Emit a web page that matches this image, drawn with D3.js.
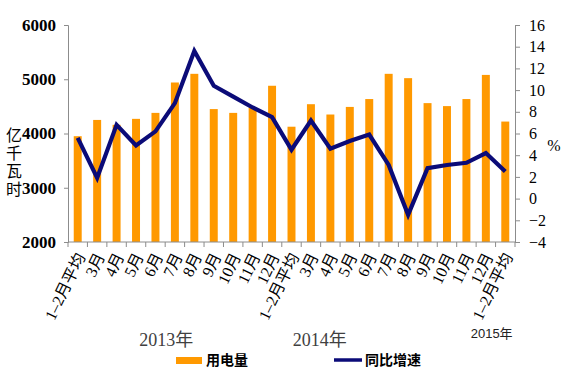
<!DOCTYPE html>
<html><head><meta charset="utf-8">
<script src="https://cdn.jsdelivr.net/npm/d3@7"></script>
<style>body{margin:0;background:#fff}svg{display:block}</style>
</head><body>
<script>
const categories = ["1–2月平均","3月","4月","5月","6月","7月","8月","9月","10月","11月","12月",
  "1–2月平均","3月","4月","5月","6月","7月","8月","9月","10月","11月","12月","1–2月平均"];
const usage = [3950,4250,4160,4270,4380,4940,5100,4450,4380,4480,4880,
  4125,4540,4350,4490,4635,5100,5020,4560,4505,4635,5080,4220];
const growth = [5.6,1.9,6.8,4.9,6.2,8.8,13.6,10.4,9.4,8.4,7.5,
  4.5,7.2,4.6,5.3,5.9,3.1,-1.5,2.8,3.1,3.3,4.2,2.5];
const leftTicks = [2000,3000,4000,5000,6000];
const rightTicks = [-4,-2,0,2,4,6,8,10,12,14,16];
const years = [{t:"2013年", i:4.55},{t:"2014年", i:12.45},{t:"2015年", i:21.3}];

const W=565,H=374, L=68, R=515, T=25, B=242;
const svg = d3.select("body").append("svg").attr("width",W).attr("height",H);
const idx = categories.map((d,i)=>i);
const x = d3.scaleBand().domain(idx).range([L,R]).paddingInner(0.59).paddingOuter(0.295);
const yL = d3.scaleLinear().domain([2000,6000]).range([B,T]);
const yR = d3.scaleLinear().domain([-4,16]).range([B,T]);
const cx = i => x(i)+x.bandwidth()/2;
const cxf = f => cx(0) + f*x.step();
const serif = "'Liberation Serif','Times New Roman','Noto Sans CJK SC',serif";
const axisCol = "#8c8c8c";

// bars
svg.append("g").selectAll("rect").data(usage).join("rect")
  .attr("x",(d,i)=>x(i)).attr("width",x.bandwidth())
  .attr("y",d=>yL(d)).attr("height",d=>yL(2000)-yL(d))
  .attr("fill","#ff9900");

// line
svg.append("path").datum(growth)
  .attr("d", d3.line().x((d,i)=>cx(i)).y(d=>yR(d)))
  .attr("fill","none").attr("stroke","#0b0b78").attr("stroke-width",4.2)
  .attr("stroke-linejoin","miter");

// left axis
const gl = svg.append("g").attr("transform",`translate(${L},0)`)
  .call(d3.axisLeft(yL).tickValues(leftTicks).tickSize(4).tickPadding(8).tickFormat(d3.format("d")));
gl.select(".domain").attr("stroke",axisCol);
gl.selectAll(".tick line").attr("stroke",axisCol);
gl.selectAll("text").attr("font-family",serif).attr("font-size",17).attr("font-weight","bold").attr("fill","#000");

// right axis
const gr = svg.append("g").attr("transform",`translate(${R},0)`)
  .call(d3.axisRight(yR).tickValues(rightTicks).tickSize(5).tickPadding(9)
    .tickFormat(d=> d<0 ? "−"+Math.abs(d) : d));
gr.select(".domain").attr("stroke",axisCol);
gr.selectAll(".tick line").attr("stroke",axisCol);
gr.selectAll("text").attr("font-family",serif).attr("font-size",16).attr("fill","#000");

// x axis
const gx = svg.append("g");
gx.append("line").attr("x1",L).attr("x2",R).attr("y1",B).attr("y2",B).attr("stroke",axisCol);
const bounds = idx.map(i=>cx(i)-x.step()/2).concat([cx(idx.length-1)+x.step()/2]);
gx.selectAll("line.t").data(bounds).join("line").attr("class","t")
  .attr("x1",d=>d).attr("x2",d=>d).attr("y1",B).attr("y2",B+5).attr("stroke",axisCol);
gx.selectAll("text").data(categories).join("text")
  .attr("transform",(d,i)=>`translate(${cx(i)+3},${B+12}) rotate(-64)`)
  .attr("text-anchor","end").attr("dy","0.35em")
  .attr("font-family",serif).attr("font-size",16).attr("fill","#000").text(d=>d);

// year labels
svg.append("text").attr("x",cxf(years[0].i)).attr("y",346).attr("text-anchor","middle")
  .attr("font-family",serif).attr("font-size",18).attr("fill","#404040").text(years[0].t);
svg.append("text").attr("x",cxf(years[1].i)).attr("y",346).attr("text-anchor","middle")
  .attr("font-family",serif).attr("font-size",18).attr("fill","#404040").text(years[1].t);
svg.append("text").attr("x",cxf(years[2].i)).attr("y",338).attr("text-anchor","middle")
  .attr("font-family","'Liberation Sans','Noto Sans CJK SC',sans-serif").attr("font-size",13).attr("fill","#222").text(years[2].t);

// axis titles
svg.append("text").attr("x",14).attr("y",127)
  .style("writing-mode","vertical-rl").style("letter-spacing","2px")
  .attr("font-family","'Noto Sans CJK SC',sans-serif").attr("font-size",16).attr("fill","#000")
  .text("亿千瓦时");
svg.append("text").attr("x",554).attr("y",151).attr("text-anchor","middle")
  .attr("font-family",serif).attr("font-size",16).attr("fill","#000").text("%");

// legend
const lg = svg.append("g").attr("font-family","'Noto Sans CJK SC',sans-serif").attr("font-size",14).attr("font-weight","bold");
lg.append("rect").attr("x",176).attr("y",357).attr("width",26).attr("height",7).attr("fill","#ff9900");
lg.append("text").attr("x",206).attr("y",365).text("用电量");
lg.append("line").attr("x1",334).attr("x2",362).attr("y1",360).attr("y2",360).attr("stroke","#0b0b78").attr("stroke-width",3.5);
lg.append("text").attr("x",365).attr("y",365).text("同比增速");
</script>
</body></html>
